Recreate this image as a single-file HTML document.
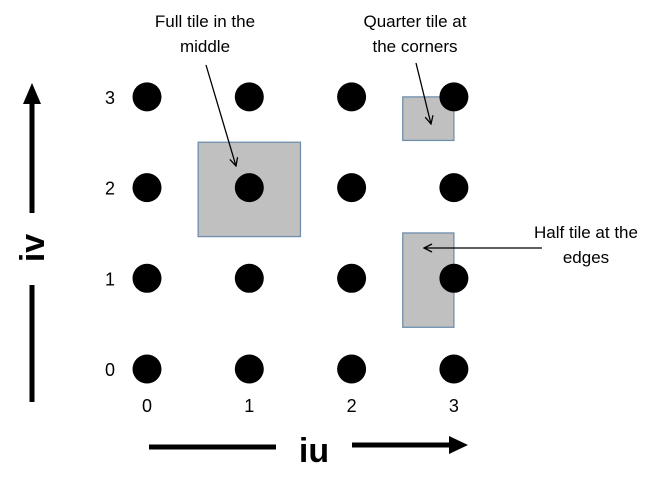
<!DOCTYPE html>
<html><head><meta charset="utf-8"><style>
html,body{margin:0;padding:0;background:#fff;}
svg{display:block;font-family:"Liberation Sans",Arial,sans-serif;}
</style></head><body>
<svg id="c" width="667" height="494" viewBox="0 0 667 494">
<defs>
<marker id="ah" markerWidth="10" markerHeight="10" refX="9" refY="5" orient="auto" markerUnits="userSpaceOnUse">
<path d="M1,1 L9,5 L1,9" fill="none" stroke="#000" stroke-width="1.3"/>
</marker>
</defs>
<g id="tiles"></g>
<g id="dots"></g>
<g id="labels"></g>
<line x1="206" y1="65" x2="236" y2="166" stroke="#000" stroke-width="1.3" marker-end="url(#ah)"/>
<line x1="416" y1="63" x2="431" y2="124" stroke="#000" stroke-width="1.3" marker-end="url(#ah)"/>
<line x1="542" y1="248" x2="424" y2="248" stroke="#000" stroke-width="1.3" marker-end="url(#ah)"/>
<g font-size="17" fill="#000" text-anchor="middle">
<text x="205" y="27">Full tile in the</text>
<text x="205" y="52">middle</text>
<text x="415" y="27">Quarter tile at</text>
<text x="415" y="52">the corners</text>
<text x="586" y="238">Half tile at the</text>
<text x="586" y="263">edges</text>
</g>
<g>
<line x1="32" y1="213" x2="32" y2="100" stroke="#000" stroke-width="5"/>
<polygon points="32,83 23,104 41,104" fill="#000"/>
<line x1="32" y1="285" x2="32" y2="402" stroke="#000" stroke-width="5"/>
</g>
<text x="0" y="0" transform="translate(44,248) rotate(-90)" font-size="34" font-weight="bold" text-anchor="middle">iv</text>
<g>
<line x1="149" y1="447" x2="276" y2="447" stroke="#000" stroke-width="5"/>
<line x1="352" y1="445" x2="452" y2="445" stroke="#000" stroke-width="5"/>
<polygon points="468,445 449,436 449,454" fill="#000"/>
</g>
<text x="314" y="462" font-size="34" font-weight="bold" text-anchor="middle">iu</text>
</svg>
<script>
const uTicks=[0,1,2,3];
const vTicks=[0,1,2,3];
const tileU=[1,3,3];
const tileV=[2,3,1];
const tileW=[1,0.5,0.5];
const tileH=[1,0.5,1];
const tileNames=['full-tile','quarter-tile','half-tile'];
const tileOffU=[-0.5,-0.5,-0.5];
const tileOffV=[0.5,0,0.5];
const xs=u=>147+u*102.3;
const ys=v=>369-v*90.7;
const NS='http://www.w3.org/2000/svg';
const tg=document.getElementById('tiles'),dg=document.getElementById('dots'),lg=document.getElementById('labels');
for(let i=0;i<tileU.length;i++){
  const r=document.createElementNS(NS,'rect');
  const x0=xs(tileU[i]+tileOffU[i]),y0=ys(tileV[i]+tileOffV[i]);
  r.setAttribute('x',x0);r.setAttribute('y',y0);
  r.setAttribute('width',tileW[i]*102.3);r.setAttribute('height',tileH[i]*90.7*(i==1?0.96:1.04));
  r.setAttribute('fill','#c0c0c0');r.setAttribute('stroke','#6f8fae');r.setAttribute('stroke-width','1.3');
  
  
  tg.appendChild(r);
}
for(const v of vTicks){for(const u of uTicks){
  const c=document.createElementNS(NS,'ellipse');
  c.setAttribute('cx',xs(u));c.setAttribute('cy',ys(v));c.setAttribute('rx',14.5);c.setAttribute('ry',14.5);
  c.setAttribute('fill','#000');
  
  
  dg.appendChild(c);
}}
for(const u of uTicks){
  const t=document.createElementNS(NS,'text');
  t.setAttribute('x',xs(u));t.setAttribute('y',412);t.setAttribute('font-size','18');t.setAttribute('text-anchor','middle');
  t.textContent=u;
  
  
  lg.appendChild(t);
}
for(const v of vTicks){
  const t=document.createElementNS(NS,'text');
  t.setAttribute('x',110);t.setAttribute('y',ys(v)+7);t.setAttribute('font-size','18');t.setAttribute('text-anchor','middle');
  t.textContent=v;
  
  
  lg.appendChild(t);
}
</script>
</body></html>
